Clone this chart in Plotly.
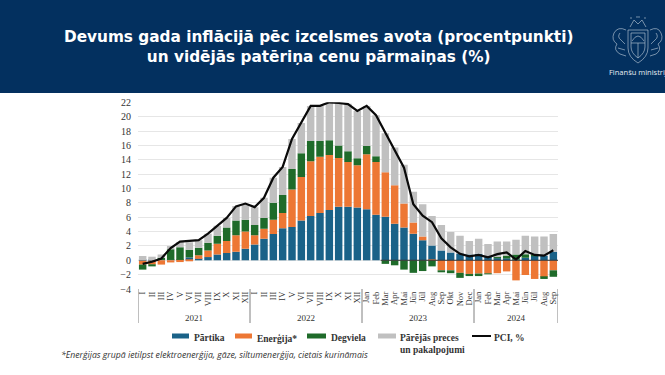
import plotly.graph_objects as go

W = 665
H = 375

roman = ['I', 'II', 'III', 'IV', 'V', 'VI', 'VII', 'VIII', 'IX', 'X', 'XI', 'XII']
latin = ['Jan', 'Feb', 'Mar', 'Apr', 'Mai', 'Jūn', 'Jūl', 'Aug', 'Sep', 'Okt', 'Nov', 'Dec']
months = roman + roman + latin + latin[:9]
year_names = ['2021', '2022', '2023', '2024']
year_lengths = [12, 12, 12, 9]

partika = [-0.05, -0.05, 0.05, 0.05, 0.05, 0.4, 0.2, 0.45, 0.8, 1.0, 1.2, 1.6,
           2.2, 3.0, 3.65, 4.45, 4.65, 5.55, 6.15, 6.6, 7.0, 7.45, 7.45, 7.35,
           7.1, 6.35, 6.05, 5.1, 4.55, 3.7, 2.8, 2.05, 1.35, 1.1, 0.95, 0.8,
           0.9, 0.5, 0.3, 0.25, 0.1, 0.35, 0.6, 0.65, 1.2]
energija = [-0.55, -0.55, -0.6, -0.3, -0.25, -0.1, 0.5, 0.9, 1.5, 1.7, 2.3, 2.4,
            1.3, 1.4, 2.0, 2.15, 5.2, 6.05, 7.65, 7.8, 7.65, 6.8, 6.25, 5.9,
            7.65, 7.35, 6.2, 5.35, 3.35, 1.55, 0.5, -0.05, -1.4, -1.4, -1.75, -1.9,
            -1.85, -1.85, -1.8, -1.55, -2.8, -2.05, -2.6, -2.35, -1.4]
degviela = [-0.7, -0.25, 0.3, 1.5, 1.75, 1.05, 1.05, 1.1, 1.1, 1.85, 2.05, 1.65,
            1.4, 1.5, 2.35, 2.5, 2.85, 3.3, 2.8, 2.2, 2.05, 1.75, 1.5, 0.95,
            1.15, 0.8, -0.5, -0.7, -1.3, -1.75, -1.5, -0.8, -0.25, -0.4, -0.7, -0.3,
            -0.35, -0.1, 0.15, 0.4, 0.7, 0.5, 0.2, -0.25, -0.9]
citi = [0.6, 0.5, 0.45, 0.45, 0.75, 1.05, 1.05, 1.25, 1.4, 1.35, 2.0, 2.2,
        2.5, 2.8, 3.5, 3.9, 4.2, 4.2, 4.9, 4.9, 5.3, 5.9, 6.6, 6.6,
        5.6, 5.7, 5.45, 5.25, 5.4, 4.3, 4.5, 4.1, 3.55, 2.85, 2.45, 1.9,
        2.1, 1.75, 2.15, 1.95, 2.05, 2.55, 2.5, 2.65, 2.45]
pci = [-0.5, -0.2, 0.25, 1.7, 2.6, 2.7, 2.8, 3.7, 4.8, 5.9, 7.5, 7.9,
       7.4, 8.7, 11.5, 13.0, 16.9, 19.1, 21.5, 21.5, 22.0, 21.9, 21.75, 20.8,
       21.5, 20.2, 17.7, 15.3, 12.9, 7.8, 6.2, 5.3, 3.05, 1.8, 0.9, 0.55,
       0.75, 0.4, 0.85, 1.1, 0.1, 1.3, 0.75, 0.65, 1.4]

y_ticks = [-4, -2, 0, 2, 4, 6, 8, 10, 12, 14, 16, 18, 20, 22]

serif = 'Liberation Serif'
idx = list(range(len(months)))


def px_x(v):
    return v / W


def px_y(v):
    return 1 - v / H


def paper_path(d):
    # ceļš pikseļos -> paper koordinātes
    out = []
    for part in d.split():
        if ',' in part:
            a, b = part.split(',')
            out.append(f'{px_x(float(a)):.4f},{px_y(float(b)):.4f}')
        else:
            out.append(part)
    return ' '.join(out)


fig = go.Figure()

bars = [('Pārtika', partika, '#1a6288'),
        ('Enerģija*', energija, '#ed7734'),
        ('Degviela', degviela, '#1f6b2a'),
        ('Pārējās preces<br>un pakalpojumi', citi, '#c0c0c0')]
for name, vals, col in bars:
    fig.add_trace(go.Bar(x=idx, y=vals, name=name, marker_color=col, marker_line_width=0))

fig.add_trace(go.Scatter(x=idx, y=pci, name='PCI, %', mode='lines',
                         line=dict(color='#0a0a0a', width=2.2)))

fig.update_layout(
    width=W, height=H,
    margin=dict(l=0, r=0, t=0, b=0),
    paper_bgcolor='white', plot_bgcolor='white',
    barmode='relative', bargap=0.2,
    showlegend=False,
    font=dict(family=serif, color='#333333', size=10),
    xaxis=dict(domain=[px_x(138), px_x(558)], range=[-0.5, len(months) - 0.5],
               tickmode='array', tickvals=idx, ticktext=months, tickangle=-90,
               tickfont=dict(family=serif, size=8.5, color='#333333'),
               showgrid=False, ticks='', showline=False, zeroline=False, automargin=False),
    yaxis=dict(domain=[px_y(289), px_y(102.3)], range=[-4, 22], tickvals=y_ticks,
               tickfont=dict(family=serif, size=10, color='#333333'),
               gridcolor='#e6e6e6', gridwidth=1, zeroline=False, showline=False,
               ticks='', ticklabelstandoff=6, automargin=False),
)

shapes = [dict(type='rect', xref='paper', yref='paper', x0=0, x1=1, y0=px_y(93), y1=1,
               fillcolor='#03305f', line_width=0, layer='below')]

# nulles līnija virs stabiņiem no 2023. g. marta
shapes.append(dict(type='line', xref='x', yref='y', x0=25.5, x1=len(months) - 0.5, y0=0, y1=0,
                   line=dict(color='#333333', width=1)))

# gadu atdalītāji un gadu nosaukumi
pos = -0.5
seps = [pos]
for name, n in zip(year_names, year_lengths):
    fig.add_annotation(text=name, xref='x', yref='paper', x=pos + n / 2, y=px_y(318),
                       xanchor='center', yanchor='middle', showarrow=False,
                       font=dict(family=serif, size=9, color='#333333'))
    pos += n
    seps.append(pos)
for s in seps:
    shapes.append(dict(type='line', xref='x', yref='paper', x0=s, x1=s, y0=px_y(289), y1=px_y(323),
                       line=dict(color='#808080', width=1)))

# leģenda: taisnstūri un teksti
legend_items = [(172, 189, 192, 'Pārtika', '#1a6288'),
                (235, 252, 255, 'Enerģija*', '#ed7734'),
                (307, 326, 329, 'Degviela', '#1f6b2a'),
                (378, 396, 398, 'Pārējās preces<br>un pakalpojumi', '#c0c0c0')]
for x0, x1, tx, label, col in legend_items:
    shapes.append(dict(type='rect', xref='paper', yref='paper', x0=px_x(x0), x1=px_x(x1),
                       y0=px_y(338.5), y1=px_y(333.5), fillcolor=col, line_width=0))
    fig.add_annotation(text='<b>' + label + '</b>', xref='paper', yref='paper', x=px_x(tx), y=px_y(330.5),
                       xanchor='left', yanchor='top', align='left', showarrow=False,
                       font=dict(family=serif, size=9.5, color='#333333'))
shapes.append(dict(type='line', xref='paper', yref='paper', x0=px_x(472), x1=px_x(491),
                   y0=px_y(336), y1=px_y(336), line=dict(color='#0a0a0a', width=2)))
fig.add_annotation(text='<b>PCI, %</b>', xref='paper', yref='paper', x=px_x(492), y=px_y(330.5),
                   xanchor='left', yanchor='top', showarrow=False,
                   font=dict(family=serif, size=9.5, color='#333333'))

# ģerbonis - tikai aptuvens kontūrs
crest = [
    'M 628,30 L 628,48 Q 628,57 638,63 Q 648,57 648,48 L 648,30 Z',
    'M 631,33 L 631,47 Q 631,53 638,58 Q 645,53 645,47 L 645,33 Z',
    'M 631,43 L 645,43 M 638,43 L 638,58',
    'M 632,41 Q 638,31 644,41',
    'M 630,27 L 634,20 L 638,24 L 642,20 L 646,27',
    'M 636,17 L 640,17 M 630,18 L 632,18 M 644,18 L 646,18',
    'M 626,30 Q 618,26 614,33 Q 611,40 617,44 Q 613,50 620,54 L 626,56',
    'M 620,33 Q 617,37 621,40 L 625,44 M 618,48 L 625,50',
    'M 650,30 Q 658,26 661,33 Q 664,40 658,44 Q 662,50 656,54 L 650,56',
    'M 656,33 Q 659,37 655,40 L 651,44 M 658,48 L 651,50',
]
for p in crest:
    shapes.append(dict(type='path', xref='paper', yref='paper', path=paper_path(p),
                       line=dict(color='#a9bacb', width=0.7)))
fig.update_layout(shapes=shapes)

fig.add_annotation(text='<b>Devums gada inflācijā pēc izcelsmes avota (procentpunkti)<br>'
                        'un vidējās patēriņa cenu pārmaiņas (%)</b>',
                   xref='paper', yref='paper', x=px_x(318.5), y=px_y(46.5), xanchor='center', yanchor='middle',
                   showarrow=False, align='center',
                   font=dict(family='DejaVu Sans', size=15.3, color='white'))
fig.add_annotation(text='Finanšu ministrija', xref='paper', yref='paper',
                   x=px_x(607), y=px_y(72), xanchor='left', yanchor='middle', showarrow=False,
                   font=dict(family='Open Sans', size=7.5, color='#e6ecf2'))
fig.add_annotation(text='<i>*Enerģijas grupā ietilpst elektroenerģija, gāze, siltumenerģija, cietais kurināmais</i>',
                   xref='paper', yref='paper', x=px_x(59), y=px_y(355), xanchor='left', yanchor='middle',
                   showarrow=False, font=dict(family='Open Sans', size=8.7, color='#333333'))

fig.write_html("out.html", config=dict(displayModeBar=False),
               post_script="document.body.style.margin='0';document.body.style.overflow='hidden';")
